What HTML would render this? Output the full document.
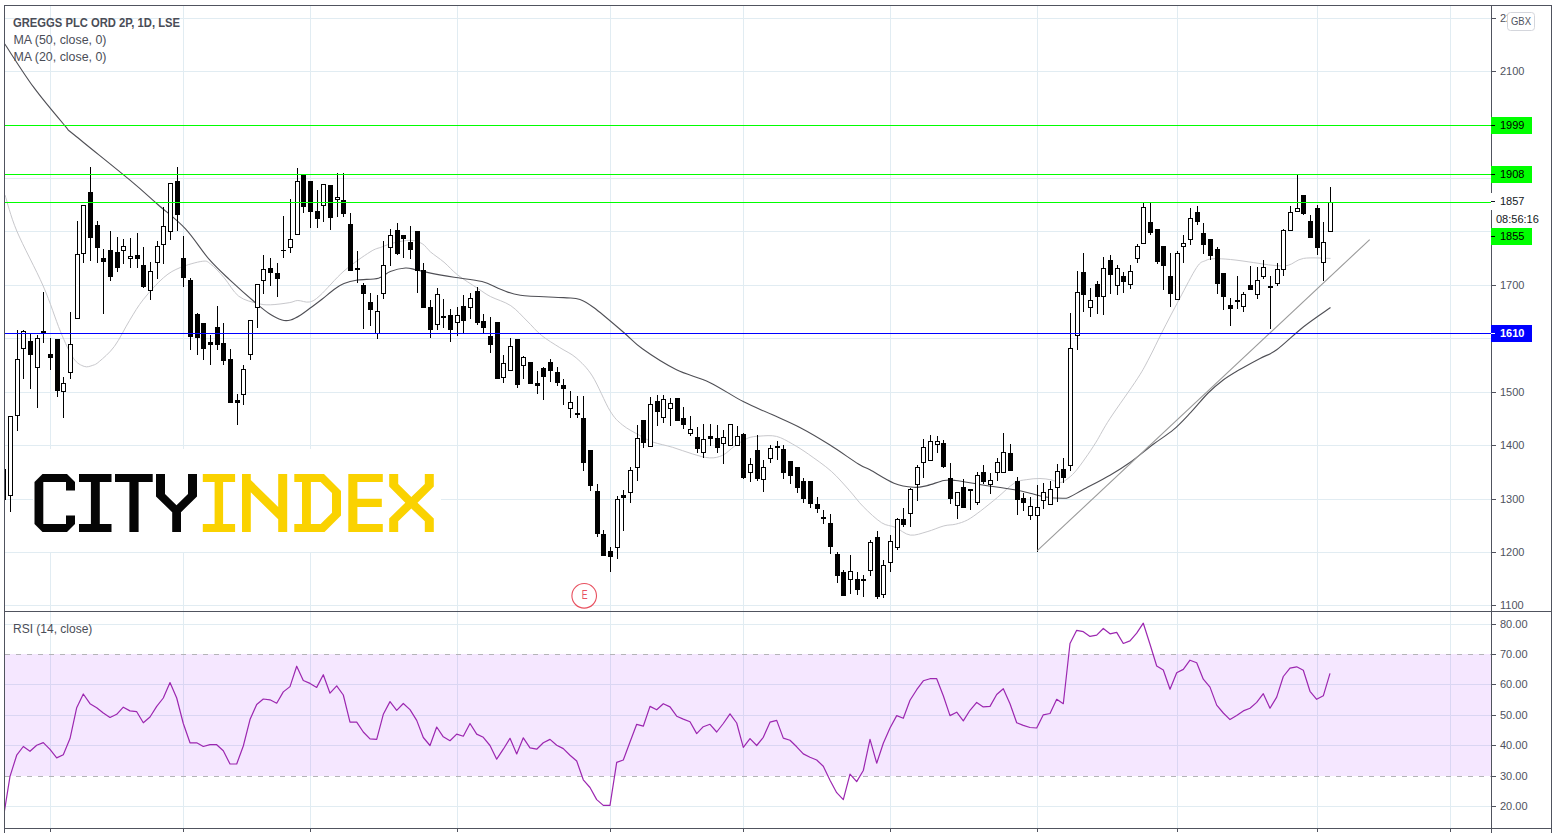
<!DOCTYPE html><html><head><meta charset="utf-8"><style>html,body{margin:0;padding:0;background:#fff;overflow:hidden;}svg{display:block;}text{font-family:"Liberation Sans", sans-serif;}</style></head><body><svg width="1558" height="833" viewBox="0 0 1558 833"><rect x="0" y="0" width="1558" height="833" fill="#fff"/><g shape-rendering="crispEdges" fill="#e1ecf2"><rect x="50" y="5" width="1" height="823"/><rect x="183" y="5" width="1" height="823"/><rect x="310" y="5" width="1" height="823"/><rect x="457" y="5" width="1" height="823"/><rect x="610" y="5" width="1" height="823"/><rect x="743" y="5" width="1" height="823"/><rect x="890" y="5" width="1" height="823"/><rect x="1037" y="5" width="1" height="823"/><rect x="1177" y="5" width="1" height="823"/><rect x="1317" y="5" width="1" height="823"/><rect x="1450" y="5" width="1" height="823"/><rect x="4" y="605" width="1487" height="1"/><rect x="4" y="552" width="1487" height="1"/><rect x="4" y="499" width="1487" height="1"/><rect x="4" y="445" width="1487" height="1"/><rect x="4" y="392" width="1487" height="1"/><rect x="4" y="338" width="1487" height="1"/><rect x="4" y="285" width="1487" height="1"/><rect x="4" y="231" width="1487" height="1"/><rect x="4" y="178" width="1487" height="1"/><rect x="4" y="125" width="1487" height="1"/><rect x="4" y="71" width="1487" height="1"/><rect x="4" y="18" width="1487" height="1"/><rect x="4" y="624" width="1487" height="1"/><rect x="4" y="684" width="1487" height="1"/><rect x="4" y="715" width="1487" height="1"/><rect x="4" y="745" width="1487" height="1"/><rect x="4" y="806" width="1487" height="1"/></g><rect x="5" y="654" width="1486" height="122" fill="#9915ff" fill-opacity="0.1" shape-rendering="crispEdges"/><g stroke="#b4b4b8" stroke-width="1" stroke-dasharray="5 6" shape-rendering="crispEdges"><line x1="5" y1="654.5" x2="1491" y2="654.5"/><line x1="5" y1="776.5" x2="1491" y2="776.5"/></g><g clip-path="url(#mainclip)"><defs><clipPath id="mainclip"><rect x="5" y="6" width="1486" height="605"/></clipPath><clipPath id="rsiclip"><rect x="5" y="612" width="1486" height="216"/></clipPath></defs><path d="M5.0,195.0 C7.0,201.0 10.4,215.8 16.8,231.0 C23.2,246.2 35.9,269.3 43.2,286.0 C50.5,302.7 55.4,319.3 60.4,331.3 C65.4,343.3 69.4,352.4 73.4,358.2 C77.4,364.0 81.0,365.2 84.2,366.4 C87.4,367.6 90.3,366.1 92.8,365.3 C95.3,364.5 95.7,364.6 99.3,361.5 C102.9,358.4 109.4,353.2 114.4,346.4 C119.5,339.5 124.8,328.2 129.6,320.4 C134.4,312.6 137.7,306.5 143.4,299.4 C149.1,292.3 157.4,282.9 163.6,277.6 C169.8,272.3 173.9,270.2 180.4,267.5 C186.9,264.8 197.3,261.9 202.3,261.3 C207.3,260.7 207.0,261.3 210.6,264.0 C214.2,266.7 219.3,272.2 224.0,277.6 C228.7,283.0 233.1,291.9 238.7,296.2 C244.3,300.5 252.2,302.0 257.5,303.4 C262.8,304.8 265.1,304.9 270.4,304.8 C275.7,304.7 284.6,303.4 289.2,302.7 C293.8,302.0 294.4,300.6 297.8,300.5 C301.2,300.4 305.6,302.8 309.3,302.0 C313.0,301.2 314.2,300.7 320.0,295.5 C325.8,290.3 335.7,278.2 344.0,271.0 C352.3,263.8 363.7,256.0 370.0,252.0 C376.3,248.0 377.9,248.5 381.8,247.0 C385.7,245.5 388.8,244.0 393.6,242.9 C398.4,241.8 405.6,240.2 410.4,240.3 C415.2,240.4 418.8,241.8 422.2,243.7 C425.6,245.6 427.0,248.9 430.6,252.0 C434.2,255.1 439.5,258.4 444.0,262.2 C448.5,266.0 451.9,270.4 457.5,274.8 C463.1,279.2 472.1,284.7 477.6,288.3 C483.1,291.9 484.9,293.6 490.4,296.5 C495.9,299.4 504.7,301.6 510.8,305.7 C516.9,309.8 522.0,316.1 527.1,321.0 C532.2,325.9 536.0,330.9 541.4,335.3 C546.8,339.7 554.0,343.9 559.8,347.6 C565.6,351.4 570.7,353.1 576.1,357.8 C581.5,362.6 586.8,367.3 592.4,376.1 C598.0,384.9 605.0,402.7 610.0,410.8 C615.0,418.9 617.5,420.8 622.4,424.9 C627.3,429.0 634.5,432.5 639.6,435.4 C644.7,438.2 647.3,440.0 652.8,442.0 C658.3,444.0 666.0,445.3 672.6,447.3 C679.2,449.3 686.2,452.1 692.4,453.9 C698.6,455.7 704.5,457.7 709.6,457.9 C714.7,458.1 718.6,457.2 722.8,455.2 C727.0,453.2 730.5,448.9 734.7,446.0 C738.9,443.1 743.7,439.8 747.9,438.1 C752.1,436.5 755.2,436.4 760.0,436.1 C764.8,435.8 771.1,435.1 776.5,436.4 C781.9,437.7 787.2,441.0 792.5,444.0 C797.8,447.0 802.0,449.6 808.5,454.2 C815.0,458.8 824.4,465.2 831.3,471.3 C838.1,477.4 844.3,484.8 849.6,490.7 C854.9,496.6 858.0,501.4 863.3,506.7 C868.6,512.0 876.2,519.3 881.5,522.7 C886.8,526.1 890.4,525.2 895.2,527.3 C900.0,529.4 905.0,534.4 910.3,535.1 C915.6,535.8 921.5,533.2 927.1,531.7 C932.7,530.2 939.1,527.1 943.9,525.9 C948.6,524.6 951.7,525.2 955.6,524.2 C959.5,523.2 963.2,522.2 967.4,520.0 C971.6,517.8 975.8,514.6 980.8,510.8 C985.8,507.0 992.0,501.9 997.6,497.3 C1003.2,492.7 1009.7,485.9 1014.5,483.0 C1019.3,480.1 1022.0,480.4 1026.2,479.7 C1030.5,478.9 1035.8,478.5 1040.0,478.5 C1044.2,478.5 1047.7,479.2 1051.1,479.9 C1054.5,480.6 1057.8,482.6 1060.4,482.5 C1063.1,482.4 1064.6,480.9 1067.0,479.2 C1069.4,477.4 1071.8,475.5 1074.9,472.0 C1078.0,468.5 1081.9,463.1 1085.4,458.1 C1088.9,453.1 1091.9,448.8 1096.0,442.2 C1100.1,435.6 1103.0,429.2 1110.0,418.5 C1117.0,407.8 1131.2,388.3 1137.7,378.2 C1144.2,368.1 1145.1,365.7 1149.2,358.0 C1153.3,350.3 1157.1,341.9 1162.1,332.1 C1167.1,322.3 1173.6,309.8 1179.4,299.0 C1185.2,288.2 1192.4,273.8 1196.7,267.4 C1201.0,261.0 1202.4,262.1 1205.3,260.7 C1208.2,259.2 1209.8,258.9 1214.0,258.7 C1218.2,258.5 1224.0,258.9 1230.6,259.5 C1237.2,260.1 1246.7,261.6 1253.7,262.6 C1260.8,263.6 1267.2,264.9 1272.9,265.3 C1278.7,265.8 1283.1,266.5 1288.2,265.3 C1293.3,264.1 1296.5,259.5 1303.6,258.4 C1310.6,257.2 1326.0,258.4 1330.5,258.4" fill="none" stroke="#c8c8cc" stroke-width="1.0"/><path d="M4.8,44.0 C9.6,51.2 23.6,73.6 33.6,87.2 C43.6,100.8 58.0,117.6 64.8,125.6 C71.6,133.6 63.5,125.9 74.4,135.0 C85.3,144.1 116.1,168.6 130.0,180.2 C143.9,191.8 148.6,196.4 157.8,204.5 C167.1,212.6 177.0,219.8 185.5,228.9 C194.0,238.0 201.7,250.8 209.0,259.2 C216.3,267.6 221.9,272.5 229.5,279.6 C237.1,286.7 248.0,296.4 254.6,302.0 C261.2,307.6 264.4,310.5 269.0,313.5 C273.6,316.5 278.4,318.9 282.0,320.0 C285.6,321.1 287.5,320.8 290.6,320.0 C293.7,319.2 297.3,317.1 300.7,315.0 C304.1,312.9 307.4,310.2 311.0,307.5 C314.6,304.8 318.5,302.0 322.3,299.0 C326.1,296.0 330.4,292.1 334.0,289.5 C337.6,286.9 340.1,285.1 344.0,283.5 C347.9,281.9 351.9,280.9 357.6,280.0 C363.4,279.1 373.1,279.6 378.5,278.2 C383.9,276.8 385.8,273.1 390.3,271.4 C394.8,269.7 401.2,268.3 405.4,268.0 C409.6,267.7 411.3,268.8 415.5,269.7 C419.7,270.6 424.2,271.8 430.6,273.1 C437.0,274.4 445.5,275.9 454.1,277.3 C462.7,278.7 474.1,279.5 482.0,281.5 C489.9,283.5 494.8,287.2 501.2,289.5 C507.6,291.8 510.0,293.8 520.4,295.2 C530.8,296.6 553.7,296.9 563.6,297.6 C573.5,298.3 574.9,297.7 580.0,299.4 C585.1,301.1 587.2,302.6 594.4,308.0 C601.6,313.4 615.2,325.2 623.2,332.0 C631.2,338.8 633.6,342.6 642.4,348.8 C651.2,355.1 664.8,363.9 676.0,369.5 C687.2,375.1 698.4,377.0 709.6,382.4 C720.8,387.8 732.8,396.2 743.2,401.6 C753.6,407.0 762.4,410.2 772.0,414.6 C781.6,419.0 791.2,423.0 800.8,428.0 C810.4,433.0 820.0,438.8 829.6,444.8 C839.2,450.8 851.7,459.8 858.4,464.0 C865.1,468.2 864.1,466.6 870.0,469.8 C875.9,473.0 886.7,480.3 894.0,483.2 C901.3,486.1 908.1,486.9 913.6,487.3 C919.1,487.7 922.1,486.7 927.1,485.6 C932.1,484.5 939.1,481.4 943.9,480.5 C948.6,479.6 949.5,479.8 955.6,480.5 C961.8,481.2 971.0,483.1 980.8,484.7 C990.6,486.2 1006.3,488.4 1014.5,489.8 C1022.7,491.2 1024.8,492.0 1030.0,493.2 C1035.2,494.4 1040.3,496.1 1045.8,497.0 C1051.3,497.9 1059.0,498.3 1063.0,498.3 C1067.0,498.3 1066.3,498.4 1069.6,497.0 C1072.9,495.6 1076.1,493.4 1082.8,489.8 C1089.5,486.2 1102.1,479.8 1110.0,475.2 C1117.9,470.6 1123.0,467.4 1130.3,462.2 C1137.6,457.0 1146.8,449.2 1154.0,443.8 C1161.2,438.4 1167.4,434.9 1173.5,429.7 C1179.6,424.5 1185.0,418.5 1190.8,412.4 C1196.6,406.3 1202.7,398.4 1208.1,393.0 C1213.5,387.6 1218.2,383.8 1223.2,380.0 C1228.2,376.2 1232.3,373.9 1238.4,370.3 C1244.5,366.7 1253.6,361.8 1260.0,358.4 C1266.4,355.0 1269.4,355.1 1276.7,349.8 C1284.0,344.5 1294.6,333.8 1303.6,326.7 C1312.6,319.6 1326.0,310.7 1330.5,307.5" fill="none" stroke="#4f4f55" stroke-width="1.1"/></g><g shape-rendering="crispEdges"><rect x="10" y="416" width="1" height="96" fill="#000"/><rect x="8" y="416" width="5" height="80" fill="#000"/><rect x="9" y="417" width="3" height="78" fill="#fff"/><rect x="17" y="330" width="1" height="101" fill="#000"/><rect x="15" y="359" width="5" height="57" fill="#000"/><rect x="16" y="360" width="3" height="55" fill="#fff"/><rect x="23" y="330" width="1" height="49" fill="#000"/><rect x="21" y="331" width="5" height="18" fill="#000"/><rect x="22" y="332" width="3" height="16" fill="#fff"/><rect x="30" y="333" width="1" height="56" fill="#000"/><rect x="28" y="341" width="5" height="14" fill="#000"/><rect x="37" y="335" width="1" height="73" fill="#000"/><rect x="35" y="338" width="5" height="30" fill="#000"/><rect x="36" y="339" width="3" height="28" fill="#fff"/><rect x="43" y="292" width="1" height="51" fill="#000"/><rect x="41" y="331" width="5" height="3" fill="#000"/><rect x="50" y="338" width="1" height="32" fill="#000"/><rect x="48" y="354" width="5" height="4" fill="#000"/><rect x="57" y="339" width="1" height="58" fill="#000"/><rect x="55" y="339" width="5" height="52" fill="#000"/><rect x="63" y="377" width="1" height="41" fill="#000"/><rect x="61" y="383" width="5" height="9" fill="#000"/><rect x="62" y="384" width="3" height="7" fill="#fff"/><rect x="70" y="312" width="1" height="67" fill="#000"/><rect x="68" y="344" width="5" height="29" fill="#000"/><rect x="69" y="345" width="3" height="27" fill="#fff"/><rect x="77" y="221" width="1" height="98" fill="#000"/><rect x="75" y="254" width="5" height="65" fill="#000"/><rect x="76" y="255" width="3" height="63" fill="#fff"/><rect x="83" y="205" width="1" height="58" fill="#000"/><rect x="81" y="205" width="5" height="49" fill="#000"/><rect x="82" y="206" width="3" height="47" fill="#fff"/><rect x="90" y="167" width="1" height="94" fill="#000"/><rect x="88" y="192" width="5" height="46" fill="#000"/><rect x="97" y="221" width="1" height="42" fill="#000"/><rect x="95" y="225" width="5" height="23" fill="#000"/><rect x="103" y="249" width="1" height="65" fill="#000"/><rect x="101" y="258" width="5" height="4" fill="#000"/><rect x="110" y="231" width="1" height="50" fill="#000"/><rect x="108" y="250" width="5" height="27" fill="#000"/><rect x="117" y="237" width="1" height="35" fill="#000"/><rect x="115" y="252" width="5" height="16" fill="#000"/><rect x="123" y="239" width="1" height="25" fill="#000"/><rect x="121" y="246" width="5" height="5" fill="#000"/><rect x="122" y="247" width="3" height="3" fill="#fff"/><rect x="130" y="238" width="1" height="30" fill="#000"/><rect x="128" y="256" width="5" height="3" fill="#000"/><rect x="129" y="257" width="3" height="1" fill="#fff"/><rect x="137" y="233" width="1" height="35" fill="#000"/><rect x="135" y="255" width="5" height="4" fill="#000"/><rect x="143" y="247" width="1" height="41" fill="#000"/><rect x="141" y="265" width="5" height="22" fill="#000"/><rect x="150" y="262" width="1" height="38" fill="#000"/><rect x="148" y="271" width="5" height="20" fill="#000"/><rect x="149" y="272" width="3" height="18" fill="#fff"/><rect x="157" y="241" width="1" height="38" fill="#000"/><rect x="155" y="246" width="5" height="17" fill="#000"/><rect x="156" y="247" width="3" height="15" fill="#fff"/><rect x="163" y="207" width="1" height="57" fill="#000"/><rect x="161" y="226" width="5" height="19" fill="#000"/><rect x="162" y="227" width="3" height="17" fill="#fff"/><rect x="170" y="183" width="1" height="57" fill="#000"/><rect x="168" y="183" width="5" height="49" fill="#000"/><rect x="169" y="184" width="3" height="47" fill="#fff"/><rect x="177" y="167" width="1" height="64" fill="#000"/><rect x="175" y="181" width="5" height="34" fill="#000"/><rect x="183" y="236" width="1" height="51" fill="#000"/><rect x="181" y="258" width="5" height="20" fill="#000"/><rect x="190" y="278" width="1" height="72" fill="#000"/><rect x="188" y="280" width="5" height="57" fill="#000"/><rect x="197" y="313" width="1" height="42" fill="#000"/><rect x="195" y="314" width="5" height="24" fill="#000"/><rect x="203" y="323" width="1" height="37" fill="#000"/><rect x="201" y="323" width="5" height="26" fill="#000"/><rect x="210" y="335" width="1" height="30" fill="#000"/><rect x="208" y="342" width="5" height="3" fill="#000"/><rect x="217" y="306" width="1" height="44" fill="#000"/><rect x="215" y="327" width="5" height="18" fill="#000"/><rect x="223" y="323" width="1" height="42" fill="#000"/><rect x="221" y="343" width="5" height="18" fill="#000"/><rect x="230" y="349" width="1" height="54" fill="#000"/><rect x="228" y="359" width="5" height="44" fill="#000"/><rect x="237" y="394" width="1" height="31" fill="#000"/><rect x="235" y="400" width="5" height="3" fill="#000"/><rect x="243" y="365" width="1" height="40" fill="#000"/><rect x="241" y="369" width="5" height="26" fill="#000"/><rect x="242" y="370" width="3" height="24" fill="#fff"/><rect x="250" y="320" width="1" height="40" fill="#000"/><rect x="248" y="320" width="5" height="35" fill="#000"/><rect x="249" y="321" width="3" height="33" fill="#fff"/><rect x="257" y="284" width="1" height="44" fill="#000"/><rect x="255" y="284" width="5" height="24" fill="#000"/><rect x="256" y="285" width="3" height="22" fill="#fff"/><rect x="263" y="255" width="1" height="39" fill="#000"/><rect x="261" y="269" width="5" height="12" fill="#000"/><rect x="262" y="270" width="3" height="10" fill="#fff"/><rect x="270" y="258" width="1" height="28" fill="#000"/><rect x="268" y="268" width="5" height="5" fill="#000"/><rect x="277" y="263" width="1" height="34" fill="#000"/><rect x="275" y="273" width="5" height="6" fill="#000"/><rect x="283" y="216" width="1" height="42" fill="#000"/><rect x="281" y="250" width="5" height="1" fill="#000"/><rect x="290" y="199" width="1" height="54" fill="#000"/><rect x="288" y="239" width="5" height="9" fill="#000"/><rect x="289" y="240" width="3" height="7" fill="#fff"/><rect x="297" y="168" width="1" height="67" fill="#000"/><rect x="295" y="181" width="5" height="54" fill="#000"/><rect x="296" y="182" width="3" height="52" fill="#fff"/><rect x="303" y="175" width="1" height="38" fill="#000"/><rect x="301" y="175" width="5" height="32" fill="#000"/><rect x="310" y="181" width="1" height="47" fill="#000"/><rect x="308" y="181" width="5" height="31" fill="#000"/><rect x="317" y="190" width="1" height="38" fill="#000"/><rect x="315" y="211" width="5" height="8" fill="#000"/><rect x="323" y="184" width="1" height="38" fill="#000"/><rect x="321" y="184" width="5" height="22" fill="#000"/><rect x="322" y="185" width="3" height="20" fill="#fff"/><rect x="330" y="185" width="1" height="45" fill="#000"/><rect x="328" y="185" width="5" height="33" fill="#000"/><rect x="337" y="173" width="1" height="44" fill="#000"/><rect x="335" y="197" width="5" height="3" fill="#000"/><rect x="336" y="198" width="3" height="1" fill="#fff"/><rect x="343" y="173" width="1" height="44" fill="#000"/><rect x="341" y="200" width="5" height="14" fill="#000"/><rect x="350" y="213" width="1" height="58" fill="#000"/><rect x="348" y="224" width="5" height="47" fill="#000"/><rect x="357" y="251" width="1" height="32" fill="#000"/><rect x="355" y="268" width="5" height="2" fill="#000"/><rect x="363" y="283" width="1" height="46" fill="#000"/><rect x="361" y="285" width="5" height="9" fill="#000"/><rect x="370" y="293" width="1" height="33" fill="#000"/><rect x="368" y="302" width="5" height="8" fill="#000"/><rect x="377" y="295" width="1" height="44" fill="#000"/><rect x="375" y="311" width="5" height="23" fill="#000"/><rect x="376" y="312" width="3" height="21" fill="#fff"/><rect x="383" y="241" width="1" height="58" fill="#000"/><rect x="381" y="265" width="5" height="29" fill="#000"/><rect x="382" y="266" width="3" height="27" fill="#fff"/><rect x="390" y="229" width="1" height="37" fill="#000"/><rect x="388" y="235" width="5" height="13" fill="#000"/><rect x="389" y="236" width="3" height="11" fill="#fff"/><rect x="397" y="223" width="1" height="32" fill="#000"/><rect x="395" y="230" width="5" height="24" fill="#000"/><rect x="403" y="235" width="1" height="23" fill="#000"/><rect x="401" y="235" width="5" height="4" fill="#000"/><rect x="410" y="226" width="1" height="33" fill="#000"/><rect x="408" y="242" width="5" height="8" fill="#000"/><rect x="417" y="231" width="1" height="62" fill="#000"/><rect x="415" y="231" width="5" height="40" fill="#000"/><rect x="423" y="263" width="1" height="45" fill="#000"/><rect x="421" y="270" width="5" height="38" fill="#000"/><rect x="430" y="300" width="1" height="38" fill="#000"/><rect x="428" y="307" width="5" height="23" fill="#000"/><rect x="437" y="288" width="1" height="42" fill="#000"/><rect x="435" y="294" width="5" height="31" fill="#000"/><rect x="436" y="295" width="3" height="29" fill="#fff"/><rect x="443" y="299" width="1" height="29" fill="#000"/><rect x="441" y="316" width="5" height="2" fill="#000"/><rect x="450" y="309" width="1" height="33" fill="#000"/><rect x="448" y="315" width="5" height="15" fill="#000"/><rect x="457" y="307" width="1" height="29" fill="#000"/><rect x="455" y="315" width="5" height="8" fill="#000"/><rect x="456" y="316" width="3" height="6" fill="#fff"/><rect x="463" y="295" width="1" height="38" fill="#000"/><rect x="461" y="306" width="5" height="15" fill="#000"/><rect x="470" y="293" width="1" height="26" fill="#000"/><rect x="468" y="298" width="5" height="10" fill="#000"/><rect x="469" y="299" width="3" height="8" fill="#fff"/><rect x="477" y="287" width="1" height="38" fill="#000"/><rect x="475" y="291" width="5" height="32" fill="#000"/><rect x="483" y="314" width="1" height="19" fill="#000"/><rect x="481" y="321" width="5" height="7" fill="#000"/><rect x="490" y="317" width="1" height="36" fill="#000"/><rect x="488" y="336" width="5" height="9" fill="#000"/><rect x="497" y="322" width="1" height="57" fill="#000"/><rect x="495" y="322" width="5" height="57" fill="#000"/><rect x="503" y="355" width="1" height="28" fill="#000"/><rect x="501" y="363" width="5" height="15" fill="#000"/><rect x="502" y="364" width="3" height="13" fill="#fff"/><rect x="510" y="338" width="1" height="33" fill="#000"/><rect x="508" y="346" width="5" height="25" fill="#000"/><rect x="509" y="347" width="3" height="23" fill="#fff"/><rect x="517" y="339" width="1" height="49" fill="#000"/><rect x="515" y="339" width="5" height="46" fill="#000"/><rect x="523" y="356" width="1" height="23" fill="#000"/><rect x="521" y="357" width="5" height="9" fill="#000"/><rect x="522" y="358" width="3" height="7" fill="#fff"/><rect x="530" y="362" width="1" height="22" fill="#000"/><rect x="528" y="362" width="5" height="22" fill="#000"/><rect x="537" y="371" width="1" height="23" fill="#000"/><rect x="535" y="383" width="5" height="3" fill="#000"/><rect x="543" y="367" width="1" height="33" fill="#000"/><rect x="541" y="368" width="5" height="9" fill="#000"/><rect x="550" y="359" width="1" height="23" fill="#000"/><rect x="548" y="362" width="5" height="9" fill="#000"/><rect x="557" y="367" width="1" height="19" fill="#000"/><rect x="555" y="372" width="5" height="11" fill="#000"/><rect x="563" y="379" width="1" height="26" fill="#000"/><rect x="561" y="385" width="5" height="4" fill="#000"/><rect x="570" y="391" width="1" height="27" fill="#000"/><rect x="568" y="402" width="5" height="7" fill="#000"/><rect x="569" y="403" width="3" height="5" fill="#fff"/><rect x="577" y="396" width="1" height="22" fill="#000"/><rect x="575" y="413" width="5" height="2" fill="#000"/><rect x="583" y="396" width="1" height="75" fill="#000"/><rect x="581" y="418" width="5" height="45" fill="#000"/><rect x="590" y="450" width="1" height="41" fill="#000"/><rect x="588" y="450" width="5" height="36" fill="#000"/><rect x="597" y="484" width="1" height="53" fill="#000"/><rect x="595" y="491" width="5" height="43" fill="#000"/><rect x="603" y="530" width="1" height="26" fill="#000"/><rect x="601" y="534" width="5" height="22" fill="#000"/><rect x="610" y="547" width="1" height="25" fill="#000"/><rect x="608" y="551" width="5" height="6" fill="#000"/><rect x="617" y="496" width="1" height="63" fill="#000"/><rect x="615" y="499" width="5" height="49" fill="#000"/><rect x="616" y="500" width="3" height="47" fill="#fff"/><rect x="623" y="490" width="1" height="41" fill="#000"/><rect x="621" y="495" width="5" height="3" fill="#000"/><rect x="630" y="467" width="1" height="36" fill="#000"/><rect x="628" y="470" width="5" height="23" fill="#000"/><rect x="629" y="471" width="3" height="21" fill="#fff"/><rect x="637" y="425" width="1" height="56" fill="#000"/><rect x="635" y="438" width="5" height="30" fill="#000"/><rect x="636" y="439" width="3" height="28" fill="#fff"/><rect x="643" y="420" width="1" height="28" fill="#000"/><rect x="641" y="420" width="5" height="23" fill="#000"/><rect x="650" y="397" width="1" height="50" fill="#000"/><rect x="648" y="404" width="5" height="43" fill="#000"/><rect x="649" y="405" width="3" height="41" fill="#fff"/><rect x="657" y="395" width="1" height="31" fill="#000"/><rect x="655" y="401" width="5" height="11" fill="#000"/><rect x="663" y="395" width="1" height="28" fill="#000"/><rect x="661" y="399" width="5" height="19" fill="#000"/><rect x="662" y="400" width="3" height="17" fill="#fff"/><rect x="670" y="398" width="1" height="28" fill="#000"/><rect x="668" y="403" width="5" height="6" fill="#000"/><rect x="669" y="404" width="3" height="4" fill="#fff"/><rect x="677" y="398" width="1" height="23" fill="#000"/><rect x="675" y="398" width="5" height="23" fill="#000"/><rect x="683" y="407" width="1" height="22" fill="#000"/><rect x="681" y="418" width="5" height="7" fill="#000"/><rect x="690" y="416" width="1" height="20" fill="#000"/><rect x="688" y="429" width="5" height="5" fill="#000"/><rect x="689" y="430" width="3" height="3" fill="#fff"/><rect x="697" y="427" width="1" height="26" fill="#000"/><rect x="695" y="437" width="5" height="12" fill="#000"/><rect x="703" y="424" width="1" height="34" fill="#000"/><rect x="701" y="439" width="5" height="14" fill="#000"/><rect x="702" y="440" width="3" height="12" fill="#fff"/><rect x="710" y="424" width="1" height="22" fill="#000"/><rect x="708" y="436" width="5" height="3" fill="#000"/><rect x="717" y="425" width="1" height="28" fill="#000"/><rect x="715" y="438" width="5" height="10" fill="#000"/><rect x="723" y="430" width="1" height="34" fill="#000"/><rect x="721" y="437" width="5" height="7" fill="#000"/><rect x="722" y="438" width="3" height="5" fill="#fff"/><rect x="730" y="424" width="1" height="22" fill="#000"/><rect x="728" y="424" width="5" height="22" fill="#000"/><rect x="729" y="425" width="3" height="20" fill="#fff"/><rect x="737" y="426" width="1" height="20" fill="#000"/><rect x="735" y="436" width="5" height="10" fill="#000"/><rect x="736" y="437" width="3" height="8" fill="#fff"/><rect x="743" y="433" width="1" height="46" fill="#000"/><rect x="741" y="434" width="5" height="44" fill="#000"/><rect x="750" y="458" width="1" height="24" fill="#000"/><rect x="748" y="464" width="5" height="9" fill="#000"/><rect x="749" y="465" width="3" height="7" fill="#fff"/><rect x="757" y="435" width="1" height="46" fill="#000"/><rect x="755" y="450" width="5" height="29" fill="#000"/><rect x="763" y="460" width="1" height="32" fill="#000"/><rect x="761" y="467" width="5" height="13" fill="#000"/><rect x="762" y="468" width="3" height="11" fill="#fff"/><rect x="770" y="445" width="1" height="18" fill="#000"/><rect x="768" y="448" width="5" height="11" fill="#000"/><rect x="769" y="449" width="3" height="9" fill="#fff"/><rect x="777" y="441" width="1" height="19" fill="#000"/><rect x="775" y="446" width="5" height="2" fill="#000"/><rect x="783" y="445" width="1" height="34" fill="#000"/><rect x="781" y="449" width="5" height="24" fill="#000"/><rect x="790" y="461" width="1" height="23" fill="#000"/><rect x="788" y="461" width="5" height="15" fill="#000"/><rect x="797" y="467" width="1" height="26" fill="#000"/><rect x="795" y="467" width="5" height="21" fill="#000"/><rect x="803" y="478" width="1" height="25" fill="#000"/><rect x="801" y="481" width="5" height="18" fill="#000"/><rect x="810" y="481" width="1" height="27" fill="#000"/><rect x="808" y="481" width="5" height="23" fill="#000"/><rect x="817" y="497" width="1" height="16" fill="#000"/><rect x="815" y="504" width="5" height="5" fill="#000"/><rect x="823" y="510" width="1" height="14" fill="#000"/><rect x="821" y="517" width="5" height="2" fill="#000"/><rect x="830" y="514" width="1" height="40" fill="#000"/><rect x="828" y="523" width="5" height="24" fill="#000"/><rect x="837" y="552" width="1" height="31" fill="#000"/><rect x="835" y="554" width="5" height="22" fill="#000"/><rect x="843" y="570" width="1" height="26" fill="#000"/><rect x="841" y="572" width="5" height="24" fill="#000"/><rect x="850" y="555" width="1" height="39" fill="#000"/><rect x="848" y="571" width="5" height="9" fill="#000"/><rect x="849" y="572" width="3" height="7" fill="#fff"/><rect x="857" y="572" width="1" height="23" fill="#000"/><rect x="855" y="579" width="5" height="11" fill="#000"/><rect x="863" y="575" width="1" height="22" fill="#000"/><rect x="861" y="579" width="5" height="2" fill="#000"/><rect x="870" y="540" width="1" height="36" fill="#000"/><rect x="868" y="542" width="5" height="29" fill="#000"/><rect x="869" y="543" width="3" height="27" fill="#fff"/><rect x="877" y="531" width="1" height="68" fill="#000"/><rect x="875" y="537" width="5" height="60" fill="#000"/><rect x="883" y="560" width="1" height="38" fill="#000"/><rect x="881" y="565" width="5" height="30" fill="#000"/><rect x="882" y="566" width="3" height="28" fill="#fff"/><rect x="890" y="535" width="1" height="37" fill="#000"/><rect x="888" y="541" width="5" height="22" fill="#000"/><rect x="889" y="542" width="3" height="20" fill="#fff"/><rect x="897" y="518" width="1" height="32" fill="#000"/><rect x="895" y="519" width="5" height="29" fill="#000"/><rect x="896" y="520" width="3" height="27" fill="#fff"/><rect x="903" y="508" width="1" height="19" fill="#000"/><rect x="901" y="519" width="5" height="6" fill="#000"/><rect x="910" y="488" width="1" height="39" fill="#000"/><rect x="908" y="489" width="5" height="25" fill="#000"/><rect x="909" y="490" width="3" height="23" fill="#fff"/><rect x="917" y="465" width="1" height="36" fill="#000"/><rect x="915" y="467" width="5" height="18" fill="#000"/><rect x="916" y="468" width="3" height="16" fill="#fff"/><rect x="923" y="439" width="1" height="39" fill="#000"/><rect x="921" y="447" width="5" height="16" fill="#000"/><rect x="922" y="448" width="3" height="14" fill="#fff"/><rect x="930" y="435" width="1" height="26" fill="#000"/><rect x="928" y="441" width="5" height="20" fill="#000"/><rect x="929" y="442" width="3" height="18" fill="#fff"/><rect x="937" y="436" width="1" height="17" fill="#000"/><rect x="935" y="441" width="5" height="4" fill="#000"/><rect x="936" y="442" width="3" height="2" fill="#fff"/><rect x="943" y="440" width="1" height="28" fill="#000"/><rect x="941" y="443" width="5" height="24" fill="#000"/><rect x="950" y="463" width="1" height="41" fill="#000"/><rect x="948" y="478" width="5" height="21" fill="#000"/><rect x="957" y="492" width="1" height="27" fill="#000"/><rect x="955" y="492" width="5" height="14" fill="#000"/><rect x="956" y="493" width="3" height="12" fill="#fff"/><rect x="963" y="479" width="1" height="29" fill="#000"/><rect x="961" y="487" width="5" height="21" fill="#000"/><rect x="970" y="489" width="1" height="21" fill="#000"/><rect x="968" y="489" width="5" height="2" fill="#000"/><rect x="977" y="472" width="1" height="33" fill="#000"/><rect x="975" y="475" width="5" height="28" fill="#000"/><rect x="976" y="476" width="3" height="26" fill="#fff"/><rect x="983" y="465" width="1" height="19" fill="#000"/><rect x="981" y="472" width="5" height="10" fill="#000"/><rect x="990" y="473" width="1" height="21" fill="#000"/><rect x="988" y="480" width="5" height="5" fill="#000"/><rect x="989" y="481" width="3" height="3" fill="#fff"/><rect x="997" y="458" width="1" height="23" fill="#000"/><rect x="995" y="462" width="5" height="11" fill="#000"/><rect x="996" y="463" width="3" height="9" fill="#fff"/><rect x="1003" y="433" width="1" height="40" fill="#000"/><rect x="1001" y="452" width="5" height="21" fill="#000"/><rect x="1002" y="453" width="3" height="19" fill="#fff"/><rect x="1010" y="444" width="1" height="27" fill="#000"/><rect x="1008" y="453" width="5" height="18" fill="#000"/><rect x="1017" y="477" width="1" height="38" fill="#000"/><rect x="1015" y="481" width="5" height="19" fill="#000"/><rect x="1023" y="493" width="1" height="18" fill="#000"/><rect x="1021" y="498" width="5" height="5" fill="#000"/><rect x="1030" y="497" width="1" height="23" fill="#000"/><rect x="1028" y="506" width="5" height="10" fill="#000"/><rect x="1029" y="507" width="3" height="8" fill="#fff"/><rect x="1037" y="485" width="1" height="67" fill="#000"/><rect x="1035" y="507" width="5" height="9" fill="#000"/><rect x="1036" y="508" width="3" height="7" fill="#fff"/><rect x="1043" y="483" width="1" height="26" fill="#000"/><rect x="1041" y="492" width="5" height="9" fill="#000"/><rect x="1042" y="493" width="3" height="7" fill="#fff"/><rect x="1050" y="481" width="1" height="24" fill="#000"/><rect x="1048" y="489" width="5" height="16" fill="#000"/><rect x="1049" y="490" width="3" height="14" fill="#fff"/><rect x="1057" y="464" width="1" height="38" fill="#000"/><rect x="1055" y="471" width="5" height="17" fill="#000"/><rect x="1056" y="472" width="3" height="15" fill="#fff"/><rect x="1063" y="458" width="1" height="25" fill="#000"/><rect x="1061" y="469" width="5" height="9" fill="#000"/><rect x="1070" y="313" width="1" height="158" fill="#000"/><rect x="1068" y="348" width="5" height="118" fill="#000"/><rect x="1069" y="349" width="3" height="116" fill="#fff"/><rect x="1077" y="271" width="1" height="79" fill="#000"/><rect x="1075" y="292" width="5" height="44" fill="#000"/><rect x="1076" y="293" width="3" height="42" fill="#fff"/><rect x="1083" y="253" width="1" height="59" fill="#000"/><rect x="1081" y="272" width="5" height="23" fill="#000"/><rect x="1090" y="288" width="1" height="29" fill="#000"/><rect x="1088" y="300" width="5" height="8" fill="#000"/><rect x="1089" y="301" width="3" height="6" fill="#fff"/><rect x="1097" y="281" width="1" height="33" fill="#000"/><rect x="1095" y="284" width="5" height="13" fill="#000"/><rect x="1103" y="257" width="1" height="58" fill="#000"/><rect x="1101" y="268" width="5" height="29" fill="#000"/><rect x="1102" y="269" width="3" height="27" fill="#fff"/><rect x="1110" y="255" width="1" height="39" fill="#000"/><rect x="1108" y="260" width="5" height="15" fill="#000"/><rect x="1117" y="265" width="1" height="30" fill="#000"/><rect x="1115" y="268" width="5" height="18" fill="#000"/><rect x="1116" y="269" width="3" height="16" fill="#fff"/><rect x="1123" y="272" width="1" height="21" fill="#000"/><rect x="1121" y="276" width="5" height="6" fill="#000"/><rect x="1130" y="265" width="1" height="24" fill="#000"/><rect x="1128" y="271" width="5" height="14" fill="#000"/><rect x="1129" y="272" width="3" height="12" fill="#fff"/><rect x="1137" y="244" width="1" height="19" fill="#000"/><rect x="1135" y="246" width="5" height="13" fill="#000"/><rect x="1136" y="247" width="3" height="11" fill="#fff"/><rect x="1143" y="203" width="1" height="41" fill="#000"/><rect x="1141" y="207" width="5" height="37" fill="#000"/><rect x="1142" y="208" width="3" height="35" fill="#fff"/><rect x="1150" y="203" width="1" height="32" fill="#000"/><rect x="1148" y="222" width="5" height="11" fill="#000"/><rect x="1157" y="229" width="1" height="35" fill="#000"/><rect x="1155" y="229" width="5" height="33" fill="#000"/><rect x="1163" y="246" width="1" height="44" fill="#000"/><rect x="1161" y="246" width="5" height="20" fill="#000"/><rect x="1170" y="253" width="1" height="54" fill="#000"/><rect x="1168" y="276" width="5" height="18" fill="#000"/><rect x="1177" y="251" width="1" height="49" fill="#000"/><rect x="1175" y="253" width="5" height="47" fill="#000"/><rect x="1176" y="254" width="3" height="45" fill="#fff"/><rect x="1183" y="235" width="1" height="28" fill="#000"/><rect x="1181" y="243" width="5" height="4" fill="#000"/><rect x="1182" y="244" width="3" height="2" fill="#fff"/><rect x="1190" y="208" width="1" height="37" fill="#000"/><rect x="1188" y="218" width="5" height="22" fill="#000"/><rect x="1189" y="219" width="3" height="20" fill="#fff"/><rect x="1197" y="206" width="1" height="19" fill="#000"/><rect x="1195" y="212" width="5" height="10" fill="#000"/><rect x="1203" y="223" width="1" height="31" fill="#000"/><rect x="1201" y="233" width="5" height="12" fill="#000"/><rect x="1210" y="239" width="1" height="21" fill="#000"/><rect x="1208" y="239" width="5" height="17" fill="#000"/><rect x="1217" y="247" width="1" height="47" fill="#000"/><rect x="1215" y="249" width="5" height="35" fill="#000"/><rect x="1223" y="273" width="1" height="37" fill="#000"/><rect x="1221" y="273" width="5" height="24" fill="#000"/><rect x="1230" y="298" width="1" height="28" fill="#000"/><rect x="1228" y="305" width="5" height="4" fill="#000"/><rect x="1237" y="276" width="1" height="33" fill="#000"/><rect x="1235" y="300" width="5" height="2" fill="#000"/><rect x="1243" y="292" width="1" height="20" fill="#000"/><rect x="1241" y="294" width="5" height="13" fill="#000"/><rect x="1242" y="295" width="3" height="11" fill="#fff"/><rect x="1250" y="266" width="1" height="24" fill="#000"/><rect x="1248" y="285" width="5" height="5" fill="#000"/><rect x="1257" y="267" width="1" height="32" fill="#000"/><rect x="1255" y="280" width="5" height="15" fill="#000"/><rect x="1256" y="281" width="3" height="13" fill="#fff"/><rect x="1263" y="260" width="1" height="19" fill="#000"/><rect x="1261" y="267" width="5" height="10" fill="#000"/><rect x="1262" y="268" width="3" height="8" fill="#fff"/><rect x="1270" y="276" width="1" height="53" fill="#000"/><rect x="1268" y="286" width="5" height="2" fill="#000"/><rect x="1277" y="263" width="1" height="23" fill="#000"/><rect x="1275" y="269" width="5" height="15" fill="#000"/><rect x="1276" y="270" width="3" height="13" fill="#fff"/><rect x="1283" y="229" width="1" height="47" fill="#000"/><rect x="1281" y="230" width="5" height="40" fill="#000"/><rect x="1282" y="231" width="3" height="38" fill="#fff"/><rect x="1290" y="206" width="1" height="25" fill="#000"/><rect x="1288" y="212" width="5" height="19" fill="#000"/><rect x="1289" y="213" width="3" height="17" fill="#fff"/><rect x="1297" y="175" width="1" height="37" fill="#000"/><rect x="1295" y="208" width="5" height="4" fill="#000"/><rect x="1296" y="209" width="3" height="2" fill="#fff"/><rect x="1303" y="195" width="1" height="20" fill="#000"/><rect x="1301" y="195" width="5" height="19" fill="#000"/><rect x="1310" y="215" width="1" height="23" fill="#000"/><rect x="1308" y="221" width="5" height="17" fill="#000"/><rect x="1317" y="205" width="1" height="50" fill="#000"/><rect x="1315" y="208" width="5" height="40" fill="#000"/><rect x="1323" y="222" width="1" height="59" fill="#000"/><rect x="1321" y="242" width="5" height="21" fill="#000"/><rect x="1322" y="243" width="3" height="19" fill="#fff"/><rect x="1330" y="187" width="1" height="45" fill="#000"/><rect x="1328" y="202" width="5" height="30" fill="#000"/><rect x="1329" y="203" width="3" height="28" fill="#fff"/><rect x="5" y="469" width="1" height="31" fill="#000"/></g><g clip-path="url(#mainclip)"><polyline points="1037.3,550.7 1369.7,239.6" fill="none" stroke="#9a9a9a" stroke-width="1.1" stroke-linejoin="round"/></g><g shape-rendering="crispEdges"><rect x="5" y="125" width="1486" height="1" fill="#00ff00"/><rect x="5" y="174" width="1486" height="1" fill="#00ff00"/><rect x="5" y="202" width="1486" height="1" fill="#00ff00"/><rect x="5" y="333" width="1486" height="1" fill="#0000ff"/></g><g clip-path="url(#rsiclip)"><polyline points="4.5,810.7 10.0,776.4 16.7,755.2 23.3,746.5 30.0,751.3 36.7,745.2 43.3,742.6 50.0,749.4 56.7,757.9 63.3,754.7 70.0,738.6 76.7,707.7 83.3,694.0 90.0,703.7 96.7,707.7 103.3,713.0 110.0,717.5 116.7,714.3 123.3,707.2 130.0,710.9 136.7,711.7 143.3,722.8 150.0,717.0 156.7,706.4 163.3,698.0 170.0,682.6 176.7,698.0 183.3,723.5 190.0,742.8 196.7,742.8 203.3,746.5 210.0,744.7 216.7,744.7 223.3,750.7 230.0,764.0 236.7,764.0 243.3,746.0 250.0,719.6 256.7,704.5 263.3,699.0 270.0,699.8 276.7,703.2 283.3,691.9 290.0,686.6 296.7,666.2 303.3,680.5 310.0,683.4 316.7,687.4 323.3,674.7 330.0,693.2 336.7,685.8 343.3,695.0 350.0,722.2 356.7,722.2 363.3,732.0 370.0,738.9 376.7,739.4 383.3,714.3 390.0,701.6 396.7,710.3 403.3,703.5 410.0,709.6 416.7,720.4 423.3,737.5 430.0,745.5 436.7,727.0 443.3,736.8 450.0,740.7 456.7,734.1 463.3,736.2 470.0,723.5 476.7,734.1 483.3,737.3 490.0,745.5 496.7,759.2 503.3,749.2 510.0,738.3 516.7,753.9 523.3,737.8 530.0,747.8 536.7,749.2 543.3,742.8 550.0,739.4 556.7,745.2 563.3,748.6 570.0,755.2 576.7,761.0 583.3,779.8 590.0,787.5 596.7,799.6 603.3,805.4 610.0,805.4 616.7,762.4 623.3,760.0 630.0,742.0 636.7,724.3 643.3,726.2 650.0,706.4 656.7,709.8 663.3,703.7 670.0,706.9 676.7,716.2 683.3,719.1 690.0,721.7 696.7,733.6 703.3,726.7 710.0,724.3 716.7,732.0 723.3,723.5 730.0,713.8 736.7,723.0 743.3,747.3 750.0,738.6 756.7,745.5 763.3,737.3 770.0,722.2 776.7,720.4 783.3,738.1 790.0,740.2 796.7,746.8 803.3,753.9 810.0,757.3 816.7,760.0 823.3,766.3 830.0,780.3 836.7,792.7 843.3,799.6 850.0,774.2 856.7,781.6 863.3,770.5 870.0,739.4 876.7,763.2 883.3,743.3 890.0,728.0 896.7,715.6 903.3,718.3 910.0,700.3 916.7,689.7 923.3,680.8 930.0,678.7 936.7,678.7 943.3,695.8 950.0,715.6 956.7,712.2 963.3,720.9 970.0,710.3 976.7,702.4 983.3,706.9 990.0,706.4 996.7,694.5 1003.3,688.7 1010.0,703.7 1016.7,722.8 1023.3,725.4 1030.0,727.5 1036.7,728.0 1043.3,714.8 1050.0,713.5 1056.7,699.3 1063.3,703.7 1070.0,643.5 1076.7,630.3 1083.3,631.7 1090.0,636.4 1096.7,635.1 1103.3,628.5 1110.0,633.8 1116.7,632.4 1123.3,643.5 1130.0,640.9 1136.7,633.2 1143.3,623.2 1150.0,644.3 1156.7,666.0 1163.3,670.0 1170.0,689.2 1176.7,672.8 1183.3,669.4 1190.0,660.2 1196.7,662.8 1203.3,679.2 1210.0,687.1 1216.7,705.1 1223.3,713.0 1230.0,719.6 1236.7,715.6 1243.3,710.9 1250.0,708.2 1256.7,702.4 1263.3,693.7 1270.0,708.2 1276.7,697.1 1283.3,676.5 1290.0,668.1 1296.7,666.8 1303.3,670.2 1310.0,691.3 1316.7,699.3 1323.3,695.8 1330.0,673.4" fill="none" stroke="#9c27b0" stroke-width="1.2" stroke-linejoin="round"/></g><circle cx="584.2" cy="595.8" r="12.3" fill="#fff" stroke="#e8505f" stroke-width="1.1"/><text x="581.8" y="599" font-size="12.4" fill="#e8505f" textLength="5.8" lengthAdjust="spacingAndGlyphs">E</text><rect x="33" y="449" width="408" height="103" fill="#fff" shape-rendering="crispEdges"/><polygon fill="#050505" points="34.5,482 42.5,474 67,474 75,482 75,490.5 66,490.5 66,482 43.3,482 43.3,524 66,524 66,515.5 75,515.5 75,524 67,532 42.5,532 34.5,524"/><polygon fill="#050505" points="79,474 111.5,474 111.5,482 99.8,482 99.8,524 111.5,524 111.5,532 79,532 79,524 90.9,524 90.9,482 79,482"/><polygon fill="#050505" points="115,474 152.7,474 152.7,482 138.6,482 138.6,532 129.4,532 129.4,482 115,482"/><polygon fill="#050505" points="156,474 165,474 165,494 176.5,505.3 188,494 188,474 197,474 197,496.5 181,512.2 181,532 172.2,532 172.2,512.2 156,496.5"/><polygon fill="#fad200" points="202.8,474 235.1,474 235.1,482 223.1,482 223.1,524 235.1,524 235.1,532 202.8,532 202.8,524 214.6,524 214.6,482 202.8,482"/><polygon fill="#fad200" points="242,474 250.8,474 250.8,480 278.2,507 278.2,474 287.2,474 287.2,532 278.2,532 278.2,519.3 250.8,492.3 250.8,532 242,532"/><polygon fill="#fad200" fill-rule="evenodd" points="294.3,474 324,474 341,491 341,515.5 324.5,532 294.3,532 294.3,524 302,524 302,482 294.3,482"/><polygon fill="#fff" points="310.9,482 320.6,482 332,493 332,512.7 320.6,524 310.9,524"/><polygon fill="#fad200" points="348.3,474 382.8,474 382.8,482 357.4,482 357.4,498.8 381.8,498.8 381.8,507 357.4,507 357.4,524 382.8,524 382.8,532 348.3,532"/><polygon fill="#fad200" points="389.2,474 398.2,474 398.2,483.9 411.3,497 424.8,483.9 424.8,474 433.8,474 433.8,486.6 417.5,502.7 433.8,518.5 433.8,532 424.8,532 424.8,521.3 411.3,508.5 398.2,521.3 398.2,532 389.2,532 389.2,518.5 405.3,502.7 389.2,486.6"/><g shape-rendering="crispEdges" fill="#50535e"><rect x="4" y="5" width="1548" height="1"/><rect x="4" y="5" width="1" height="828"/><rect x="1551" y="5" width="1" height="828"/><rect x="1491" y="5" width="1" height="828"/><rect x="4" y="611" width="1548" height="1"/><rect x="4" y="828" width="1548" height="1"/><rect x="50" y="828" width="1" height="4"/><rect x="183" y="828" width="1" height="4"/><rect x="310" y="828" width="1" height="4"/><rect x="457" y="828" width="1" height="4"/><rect x="610" y="828" width="1" height="4"/><rect x="743" y="828" width="1" height="4"/><rect x="890" y="828" width="1" height="4"/><rect x="1037" y="828" width="1" height="4"/><rect x="1177" y="828" width="1" height="4"/><rect x="1317" y="828" width="1" height="4"/><rect x="1450" y="828" width="1" height="4"/><rect x="1491" y="18" width="5" height="1"/><rect x="1491" y="71" width="5" height="1"/><rect x="1491" y="125" width="5" height="1"/><rect x="1491" y="178" width="5" height="1"/><rect x="1491" y="231" width="5" height="1"/><rect x="1491" y="285" width="5" height="1"/><rect x="1491" y="338" width="5" height="1"/><rect x="1491" y="392" width="5" height="1"/><rect x="1491" y="445" width="5" height="1"/><rect x="1491" y="499" width="5" height="1"/><rect x="1491" y="552" width="5" height="1"/><rect x="1491" y="605" width="5" height="1"/><rect x="1491" y="624" width="5" height="1"/><rect x="1491" y="654" width="5" height="1"/><rect x="1491" y="684" width="5" height="1"/><rect x="1491" y="715" width="5" height="1"/><rect x="1491" y="745" width="5" height="1"/><rect x="1491" y="776" width="5" height="1"/><rect x="1491" y="806" width="5" height="1"/></g><g font-size="11" fill="#50535e"><text x="1500" y="21.8">2200</text><text x="1500" y="74.8">2100</text><text x="1500" y="288.8">1700</text><text x="1500" y="395.8">1500</text><text x="1500" y="448.8">1400</text><text x="1500" y="502.8">1300</text><text x="1500" y="555.8">1200</text><text x="1500" y="608.8">1100</text><text x="1500" y="627.8">80.00</text><text x="1500" y="657.8">70.00</text><text x="1500" y="687.8">60.00</text><text x="1500" y="718.8">50.00</text><text x="1500" y="748.8">40.00</text><text x="1500" y="779.8">30.00</text><text x="1500" y="809.8">20.00</text></g><rect x="1507.5" y="12.5" width="27" height="18" rx="3" ry="3" fill="#fff" stroke="#d4d6dc" stroke-width="1"/><text x="1511" y="25" font-size="10.5" fill="#50535e" textLength="20" lengthAdjust="spacingAndGlyphs">GBX</text><g shape-rendering="crispEdges"><rect x="1491" y="117" width="41" height="17" fill="#00ff00"/><rect x="1491" y="125" width="4" height="1" fill="#000"/><rect x="1491" y="166" width="41" height="17" fill="#00ff00"/><rect x="1491" y="174" width="4" height="1" fill="#000"/><rect x="1491" y="228" width="41" height="17" fill="#00ff00"/><rect x="1491" y="236" width="4" height="1" fill="#000"/><rect x="1491" y="325" width="41" height="17" fill="#0000ff"/><rect x="1491" y="333" width="4" height="1" fill="#fff"/><rect x="1491" y="193" width="41" height="17" fill="#fff"/><rect x="1491" y="201" width="4" height="1" fill="#131722"/></g><text x="1500" y="128.8" font-size="11" fill="#000">1999</text><text x="1500" y="177.8" font-size="11" fill="#000">1908</text><text x="1500" y="239.8" font-size="11" fill="#000">1855</text><text x="1500" y="337.3" font-size="11" font-weight="bold" fill="#fff">1610</text><text x="1500" y="204.7" font-size="11" fill="#131722">1857</text><text x="1496" y="223" font-size="11" fill="#131722">08:56:16</text><text x="13" y="27" font-size="12" font-weight="bold" fill="#4a4d57" textLength="167" lengthAdjust="spacingAndGlyphs">GREGGS PLC ORD 2P, 1D, LSE</text><text x="13.5" y="44" font-size="12" fill="#4a4d57" textLength="93" lengthAdjust="spacingAndGlyphs">MA (50, close, 0)</text><text x="13.5" y="61" font-size="12" fill="#4a4d57" textLength="93" lengthAdjust="spacingAndGlyphs">MA (20, close, 0)</text><text x="13" y="633" font-size="12" fill="#4a4d57">RSI (14, close)</text></svg></body></html>
